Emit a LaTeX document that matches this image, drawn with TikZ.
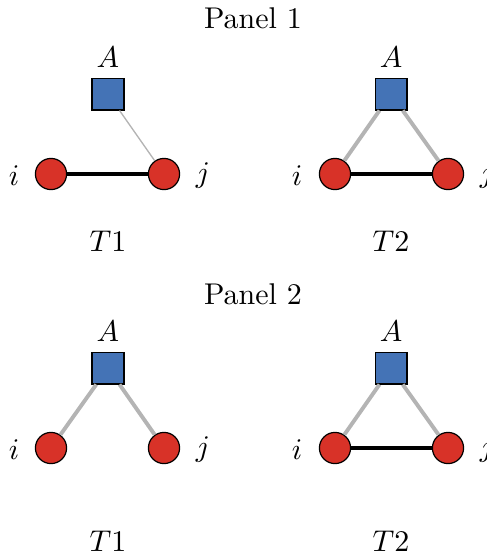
\documentclass[tikz,border=0pt]{standalone}
\usepackage{amsmath}
\usepackage{xcolor}
\usepackage{tikz}
\usetikzlibrary{arrows.meta, shapes, positioning, calc}
\definecolor{nodeblue}{RGB}{68,115,182}
\definecolor{nodered}{RGB}{216,50,40}
\definecolor{linkgray}{RGB}{180,180,180}

\begin{document}
\begin{tikzpicture}[
  x=0.3333pt, y=-0.3333pt,
  sq/.style={draw, rectangle, fill=nodeblue, line width=0.4pt,
             minimum size=10.6pt, inner sep=0pt},
  rc/.style={draw, circle, fill=nodered, line width=0.4pt,
             minimum size=10.4pt, inner sep=0pt},
  strong/.style={line width=1.2pt, black},
  weak/.style={line width=1.3pt, linkgray},
  faint/.style={line width=0.45pt, linkgray},
  ttl/.style={font=\normalsize},
]
\useasboundingbox (0,0) rectangle (486,555);

% PANEL 1
\node[ttl] (p1) at (253,18) {Panel 1};
\node[sq] (a11) at (108,94)  {};
\node[rc] (i11) at (51,174)  {};
\node[rc] (j11) at (164,174) {};
\node (la11) at (108,57) {$A$};
\node (li11) at (14,176) {$i$};
\node (lj11) at (203,176) {$j$};
\node (t11) at (108,241) {$T1$};
\draw[strong] (i11) -- (j11);
\draw[faint] (a11) -- (j11);

\node[sq] (a12) at (391,94)  {};
\node[rc] (i12) at (335,174) {};
\node[rc] (j12) at (448,174) {};
\node (la12) at (391,57) {$A$};
\node (li12) at (297,176) {$i$};
\node (lj12) at (487,176) {$j$};
\node (t12) at (391,241) {$T2$};
\draw[strong] (i12) -- (j12);
\draw[weak] (a12) -- (i12);
\draw[weak] (a12) -- (j12);

% PANEL 2
\node[ttl] (p2) at (253,294) {Panel 2};
\node[sq] (a21) at (108,368) {};
\node[rc] (i21) at (51,448)  {};
\node[rc] (j21) at (164,448) {};
\node (la21) at (108,331) {$A$};
\node (li21) at (14,450) {$i$};
\node (lj21) at (203,450) {$j$};
\node (t21) at (108,541) {$T1$};
\draw[weak] (a21) -- (i21);
\draw[weak] (a21) -- (j21);

\node[sq] (a22) at (391,368) {};
\node[rc] (i22) at (335,448) {};
\node[rc] (j22) at (448,448) {};
\node (la22) at (391,331) {$A$};
\node (li22) at (297,450) {$i$};
\node (lj22) at (487,450) {$j$};
\node (t22) at (391,541) {$T2$};
\draw[strong] (i22) -- (j22);
\draw[weak] (a22) -- (i22);
\draw[weak] (a22) -- (j22);

\end{tikzpicture}
\end{document}
